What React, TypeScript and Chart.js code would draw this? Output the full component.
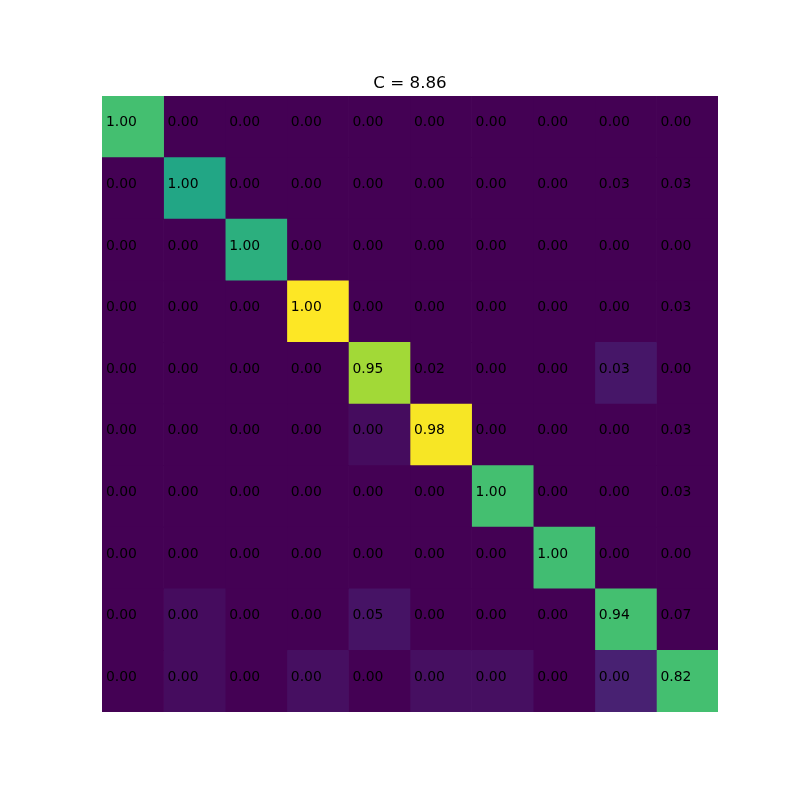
import React, { useEffect, useRef } from "react";
import { Chart, registerables } from "chart.js";

Chart.register(...registerables);

const title = "C = 8.86";
const rowLabels = ["0", "1", "2", "3", "4", "5", "6", "7", "8", "9"];
const colLabels = ["0", "1", "2", "3", "4", "5", "6", "7", "8", "9"];

// Displayed (normalized) values, row by row
const cellText: number[][] = [
  [1.0, 0, 0, 0, 0, 0, 0, 0, 0, 0],
  [0, 1.0, 0, 0, 0, 0, 0, 0, 0.03, 0.03],
  [0, 0, 1.0, 0, 0, 0, 0, 0, 0, 0],
  [0, 0, 0, 1.0, 0, 0, 0, 0, 0, 0.03],
  [0, 0, 0, 0, 0.95, 0.02, 0, 0, 0.03, 0],
  [0, 0, 0, 0, 0, 0.98, 0, 0, 0, 0.03],
  [0, 0, 0, 0, 0, 0, 1.0, 0, 0, 0.03],
  [0, 0, 0, 0, 0, 0, 0, 1.0, 0, 0],
  [0, 0, 0, 0, 0.05, 0, 0, 0, 0.94, 0.07],
  [0, 0, 0, 0, 0, 0, 0, 0, 0, 0.82],
];

// Colour intensity (0..1 on viridis) read from the cells
const cellColor: number[][] = [
  [0.7, 0, 0, 0, 0, 0, 0, 0, 0, 0],
  [0, 0.59, 0, 0, 0, 0, 0, 0, 0, 0],
  [0, 0, 0.63, 0, 0, 0, 0, 0, 0, 0],
  [0, 0, 0, 1.0, 0, 0, 0, 0, 0, 0],
  [0, 0, 0, 0, 0.86, 0, 0, 0, 0.06, 0],
  [0, 0, 0, 0, 0.03, 0.99, 0, 0, 0, 0],
  [0, 0, 0, 0, 0, 0, 0.7, 0, 0, 0],
  [0, 0, 0, 0, 0, 0, 0, 0.69, 0, 0],
  [0, 0.03, 0, 0, 0.05, 0, 0, 0, 0.7, 0],
  [0, 0.03, 0, 0.04, 0, 0.04, 0.04, 0, 0.09, 0.7],
];

const viridisStops = [
  "#440154", "#482475", "#414487", "#355f8d", "#2a788e", "#21918c",
  "#22a884", "#44bf70", "#7ad151", "#bddf26", "#fde725",
];

function hexToRgb(h: string) {
  return [parseInt(h.slice(1, 3), 16), parseInt(h.slice(3, 5), 16), parseInt(h.slice(5, 7), 16)];
}

function viridis(t: number) {
  const v = Math.max(0, Math.min(1, t)) * (viridisStops.length - 1);
  const i = Math.min(Math.floor(v), viridisStops.length - 2);
  const f = v - i;
  const a = hexToRgb(viridisStops[i]);
  const b = hexToRgb(viridisStops[i + 1]);
  const c = a.map((x, k) => Math.round(x + (b[k] - x) * f));
  return `rgb(${c[0]},${c[1]},${c[2]})`;
}

export default function App() {
  const ref = useRef<HTMLCanvasElement | null>(null);
  useEffect(() => {
    if (!ref.current) return;
    const datasets = colLabels.map((col, j) => ({
      label: col,
      data: rowLabels.map(() => 1),
      backgroundColor: rowLabels.map((_, i) => viridis(cellColor[i][j])),
      borderWidth: 0,
      categoryPercentage: 1,
      barPercentage: 1,
    }));
    const textPlugin = {
      id: "cellText",
      afterDatasetsDraw(chart: any) {
        const ctx = chart.ctx;
        ctx.save();
        ctx.fillStyle = "#000";
        ctx.font = "13.9px 'DejaVu Sans'";
        ctx.textAlign = "left";
        ctx.textBaseline = "middle";
        colLabels.forEach((_, j) => {
          const meta = chart.getDatasetMeta(j);
          meta.data.forEach((el: any, i: number) => {
            const left = Math.min(el.x, el.base);
            ctx.fillText(cellText[i][j].toFixed(2), left + 4, el.y - 4);
          });
        });
        const ca = chart.chartArea;
        ctx.font = "16.7px 'DejaVu Sans'";
        ctx.textAlign = "center";
        ctx.textBaseline = "alphabetic";
        ctx.fillText(title, (ca.left + ca.right) / 2, ca.top - 8);
        ctx.restore();
      },
    };
    const chart = new Chart(ref.current, {
      type: "bar",
      data: { labels: rowLabels, datasets },
      options: {
        indexAxis: "y",
        animation: false,
        responsive: false,
        maintainAspectRatio: false,
        layout: { padding: { left: 102, right: 82, top: 96, bottom: 88 } },
        plugins: { legend: { display: false }, tooltip: { enabled: false }, title: { display: false } },
        scales: {
          x: { type: "linear", stacked: true, min: 0, max: 10, display: false },
          y: { stacked: true, display: false },
        },
      },
      plugins: [textPlugin],
    } as any);
    return () => chart.destroy();
  }, []);
  return (
    <div style={{ position: "fixed", left: 0, top: 0, width: 800, height: 800, background: "#fff" }}>
      <canvas ref={ref} width={800} height={800} style={{ width: 800, height: 800 }} />
    </div>
  );
}
